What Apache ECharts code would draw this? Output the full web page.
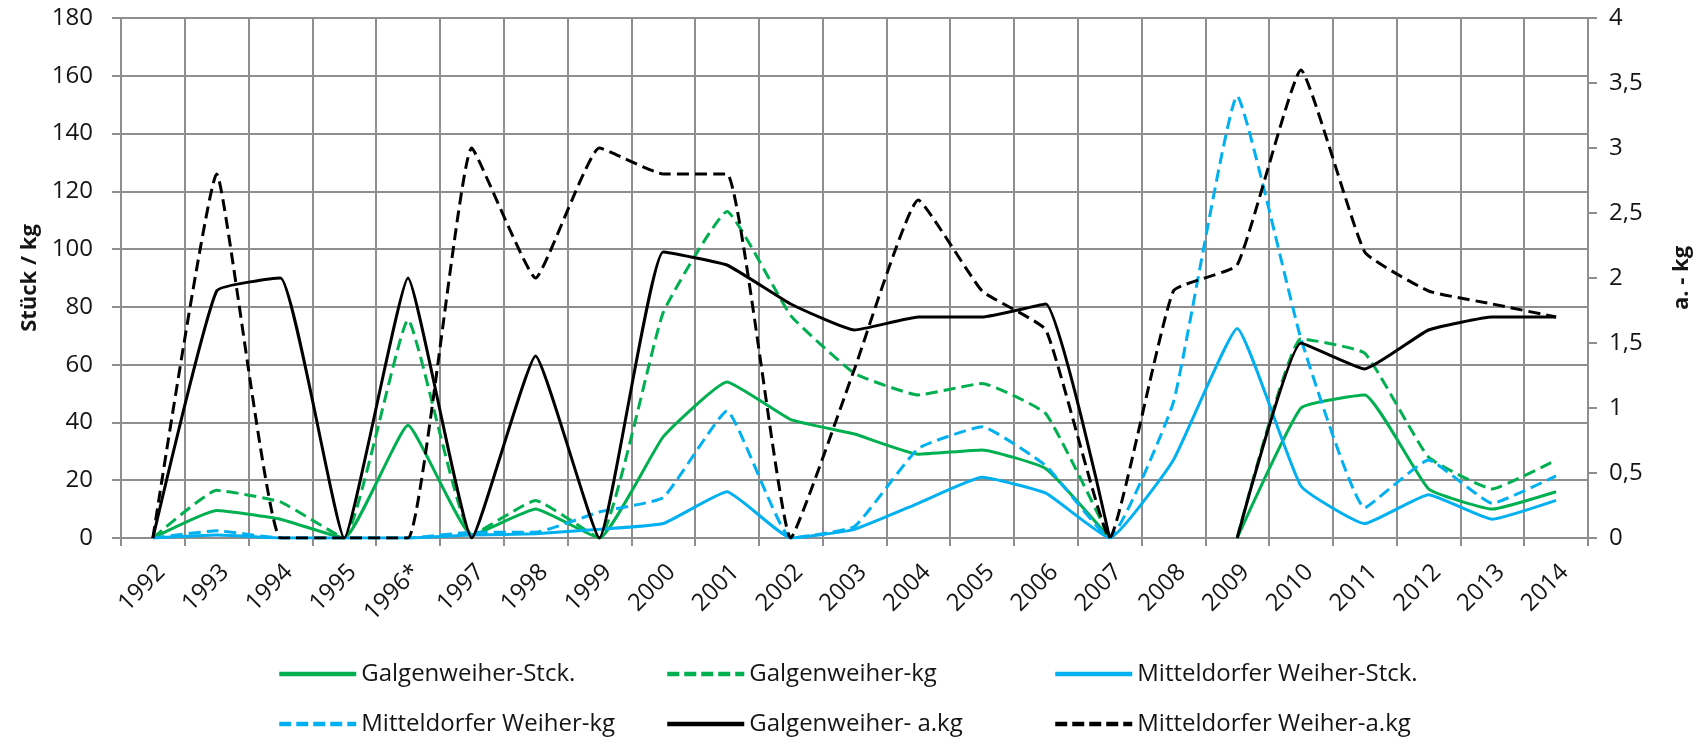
<!DOCTYPE html>
<html>
<head>
<meta charset="utf-8">
<script src="https://cdn.jsdelivr.net/npm/echarts@6/dist/echarts.min.js"></script>
<style>
html,body{margin:0;padding:0;background:#fff;}
#chart{width:1706px;height:744px;}
</style>
</head>
<body>
<div id="chart"></div>
<script>
const categories = ['1992','1993','1994','1995','1996*','1997','1998','1999','2000','2001','2002','2003','2004','2005','2006','2007','2008','2009','2010','2011','2012','2013','2014'];
const leftTicks = [0,20,40,60,80,100,120,140,160,180];
const rightTicks = ['0','0,5','1','1,5','2','2,5','3','3,5','4'];

const galgenStck = [0, 9.5, 6.5, 0, 39, 1, 10, 0, 35, 54, 41, 36, 29, 30.5, 24, 0, null, 0, 45, 49.5, 17, 10, 16];
const galgenKg   = [0, 16.5, 12.5, 0, 75.5, 1, 13, 0, 78, 113, 77, 57, 49.5, 53.5, 43, 0, null, 0, 69, 64, 28, 17, 27];
const mittelStck = [0, 1, 0, 0, 0, 1, 1.5, 3, 5, 16, 0, 3, 12, 21, 15.5, 0, 27, 72.5, 18, 5, 15, 6.5, 13];
const mittelKg   = [0, 2.5, 0, 0, 0, 2, 2, 9, 14, 44, 0, 4, 31, 38.5, 25, 0, 47, 153, 69, 10.5, 27, 12, 21.5];
const galgenAkg  = [0, 1.9, 2.0, 0, 2.0, 0, 1.4, 0, 2.2, 2.1, 1.8, 1.6, 1.7, 1.7, 1.8, 0, null, 0, 1.5, 1.3, 1.6, 1.7, 1.7];
const mittelAkg  = [0, 2.8, 0, 0, 0, 3.0, 2.0, 3.0, 2.8, 2.8, 0, 1.3, 2.6, 1.9, 1.6, 0, 1.9, 2.1, 3.6, 2.2, 1.9, 1.8, 1.7];

const FONT = '"Open Sans", Lato, sans-serif';
const TXT = '#151515';
const GRID = '#8e8e8e';
const GREEN = '#00B050', BLUE = '#00B0F0', BLACK = '#000000';
const DASH = [12, 6];
const SMOOTH = 0.12;

function mk(name, data, color, dashed, axis) {
  return {
    name: name, type: 'line', data: data, yAxisIndex: axis,
    symbol: 'none', smooth: SMOOTH, connectNulls: false,
    lineStyle: {color: color, width: 3, type: dashed ? DASH : 'solid'},
    itemStyle: {color: color},
    z: axis === 1 ? 3 : 2
  };
}

const legendItems = [
  {name: 'Galgenweiher-Stck.', left: 277, top: 0, dashed: false},
  {name: 'Galgenweiher-kg', left: 665, top: 0, dashed: true},
  {name: 'Mitteldorfer Weiher-Stck.', left: 1053, top: 0, dashed: false},
  {name: 'Mitteldorfer Weiher-kg', left: 277, top: 1, dashed: true},
  {name: 'Galgenweiher- a.kg', left: 665, top: 1, dashed: false},
  {name: 'Mitteldorfer Weiher-a.kg', left: 1053, top: 1, dashed: true}
];
const rowTops = [662, 712];

const legends = legendItems.map(function (it) {
  return {
    data: [it.name], left: it.left, top: rowTops[it.top], orient: 'horizontal',
    itemWidth: 77, itemHeight: 20, padding: 0,
    textStyle: {fontFamily: FONT, fontSize: 24, color: TXT},
    itemStyle: {opacity: 0},
    lineStyle: {width: 4.5, type: it.dashed ? [12, 5] : 'solid'},
    selectedMode: false
  };
});

const chart = echarts.init(document.getElementById('chart'), null, {renderer: 'canvas'});
chart.setOption({
  animation: false,
  backgroundColor: '#fff',
  grid: {left: 121, right: 118, top: 18, bottom: 206, containLabel: false},
  legend: legends,
  xAxis: {
    type: 'category', data: categories, boundaryGap: true,
    axisLine: {lineStyle: {color: GRID, width: 2}},
    axisTick: {show: true, length: 8, lineStyle: {color: GRID, width: 2}},
    splitLine: {show: true, lineStyle: {color: GRID, width: 2}},
    axisLabel: {rotate: 45, margin: 22, verticalAlign: 'top', fontFamily: FONT, fontSize: 24, color: TXT, interval: 0}
  },
  yAxis: [
    {
      type: 'value', min: 0, max: 180, interval: 20, position: 'left',
      name: 'Stück / kg', nameLocation: 'middle', nameRotate: 90, nameGap: 79,
      nameTextStyle: {fontFamily: FONT, fontSize: 22, fontWeight: 'bold', color: TXT},
      axisLine: {show: true, lineStyle: {color: GRID, width: 2}},
      axisTick: {show: true, length: 9, lineStyle: {color: GRID, width: 2}},
      splitLine: {show: true, lineStyle: {color: GRID, width: 2}},
      axisLabel: {margin: 28, fontFamily: FONT, fontSize: 24, color: TXT,
        formatter: function (v) { const i = leftTicks.indexOf(v); return i >= 0 ? String(leftTicks[i]) : ''; }}
    },
    {
      type: 'value', min: 0, max: 4, interval: 0.5, position: 'right',
      name: 'a. - kg', nameLocation: 'middle', nameRotate: 90, nameGap: 83,
      nameTextStyle: {fontFamily: FONT, fontSize: 22, fontWeight: 'bold', color: TXT},
      axisLine: {show: true, lineStyle: {color: GRID, width: 2}},
      axisTick: {show: true, length: 9, lineStyle: {color: GRID, width: 2}},
      splitLine: {show: false},
      axisLabel: {margin: 21, fontFamily: FONT, fontSize: 24, color: TXT,
        formatter: function (v) { const i = Math.round(v / 0.5); return rightTicks[i] !== undefined ? rightTicks[i] : ''; }}
    }
  ],
  series: [
    mk('Galgenweiher-Stck.', galgenStck, GREEN, false, 0),
    mk('Galgenweiher-kg', galgenKg, GREEN, true, 0),
    mk('Mitteldorfer Weiher-Stck.', mittelStck, BLUE, false, 0),
    mk('Mitteldorfer Weiher-kg', mittelKg, BLUE, true, 0),
    mk('Galgenweiher- a.kg', galgenAkg, BLACK, false, 1),
    mk('Mitteldorfer Weiher-a.kg', mittelAkg, BLACK, true, 1)
  ]
});
</script>
</body>
</html>
